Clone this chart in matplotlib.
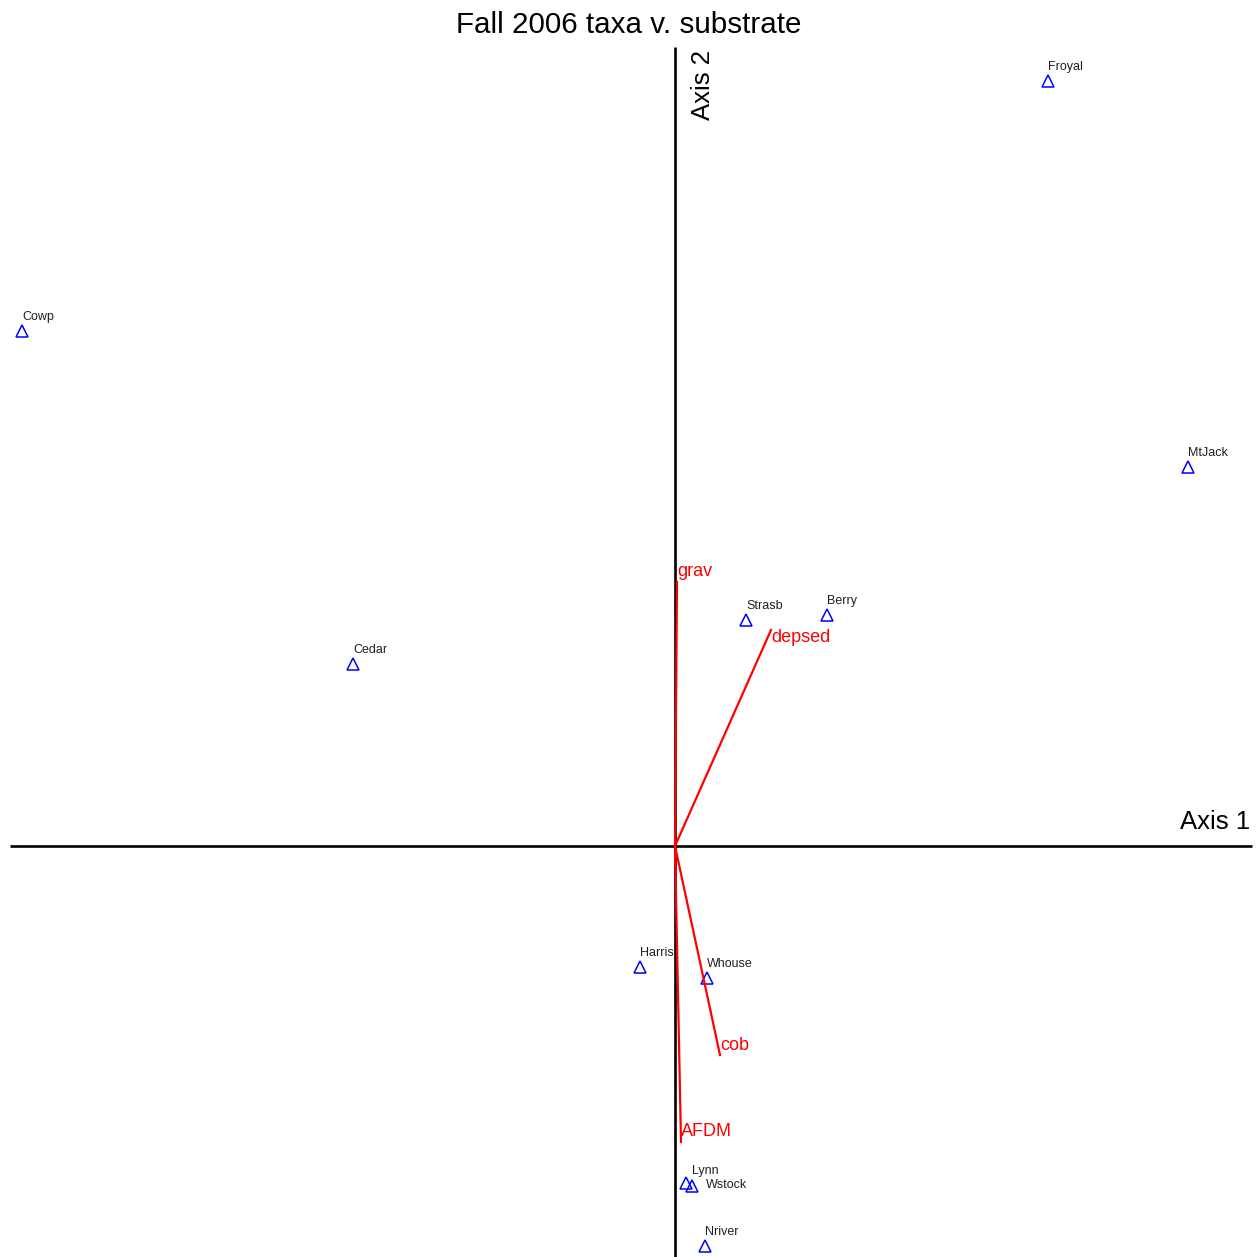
import matplotlib
matplotlib.use("Agg")
import matplotlib.pyplot as plt

plt.rcParams['font.family'] = ['Liberation Sans', 'DejaVu Sans']

# Site scores (Axis 1, Axis 2)
sites = ["Froyal", "Cowp", "MtJack", "Strasb", "Berry", "Cedar",
         "Harris", "Whouse", "Lynn", "Wstock", "Nriver"]
site_ax1 = [3.73, -6.53, 5.13, 0.71, 1.52, -3.22, -0.35, 0.32, 0.11, 0.17, 0.30]
site_ax2 = [7.65, 5.15, 3.79, 2.26, 2.31, 1.82, -1.21, -1.32, -3.37, -3.40, -4.00]

# Environmental vectors (substrate variables)
env_vars = ["grav", "depsed", "cob", "AFDM"]
env_ax1 = [0.02, 0.96, 0.45, 0.06]
env_ax2 = [2.64, 2.16, -2.09, -2.96]

W, H = 1258, 1257
fig = plt.figure(figsize=(W / 100, H / 100), dpi=100)
ax = fig.add_axes([0, 0, 1, 1])
ax.set_xlim(-6.75, 5.83)
ax.set_ylim(-4.11, 8.46)
ax.axis("off")

# Cross-shaped axes through the origin
ax.plot([-6.65, 5.77], [0, 0], color="black", lw=1.9, solid_capstyle="butt")
ax.plot([0, 0], [-4.2, 7.99], color="black", lw=1.9, solid_capstyle="butt")

# Site label offsets in pixels
label_off = {"Lynn": (6, 12), "Wstock": (14, 1)}

ax.plot(site_ax1, site_ax2, linestyle="none", marker="^", markersize=8.5,
        markerfacecolor="none", markeredgecolor="#0000ff", markeredgewidth=1.1)
for name, x, y in zip(sites, site_ax1, site_ax2):
    dx, dy = label_off.get(name, (0, 14))
    ax.annotate(name, (x, y), xytext=(dx, dy), textcoords="offset pixels",
                ha="left", va="center", fontsize=9, color="#202020")

# Vector label offsets in pixels
vec_off = {"grav": (0, 10), "depsed": (0, -8), "cob": (0, 9), "AFDM": (0, 10)}
for name, x, y in zip(env_vars, env_ax1, env_ax2):
    ax.plot([0, x], [0, y], color="#ff0000", lw=1.6)
    dx, dy = vec_off[name]
    ax.annotate(name, (x, y), xytext=(dx, dy), textcoords="offset pixels",
                ha="left", va="center", fontsize=13, color="#ff0000")

fig.text(0.5, 1 - 25 / H, "Fall 2006 taxa v. substrate", ha="center", va="center",
         fontsize=21.3, color="black")
fig.text(1250 / W, 1 - 822 / H, "Axis 1", ha="right", va="center", fontsize=18.5)
fig.text(703 / W, 1 - 50 / H, "Axis 2", ha="center", va="top", rotation=90, fontsize=18.5)

fig.savefig("out.png", dpi=100)
